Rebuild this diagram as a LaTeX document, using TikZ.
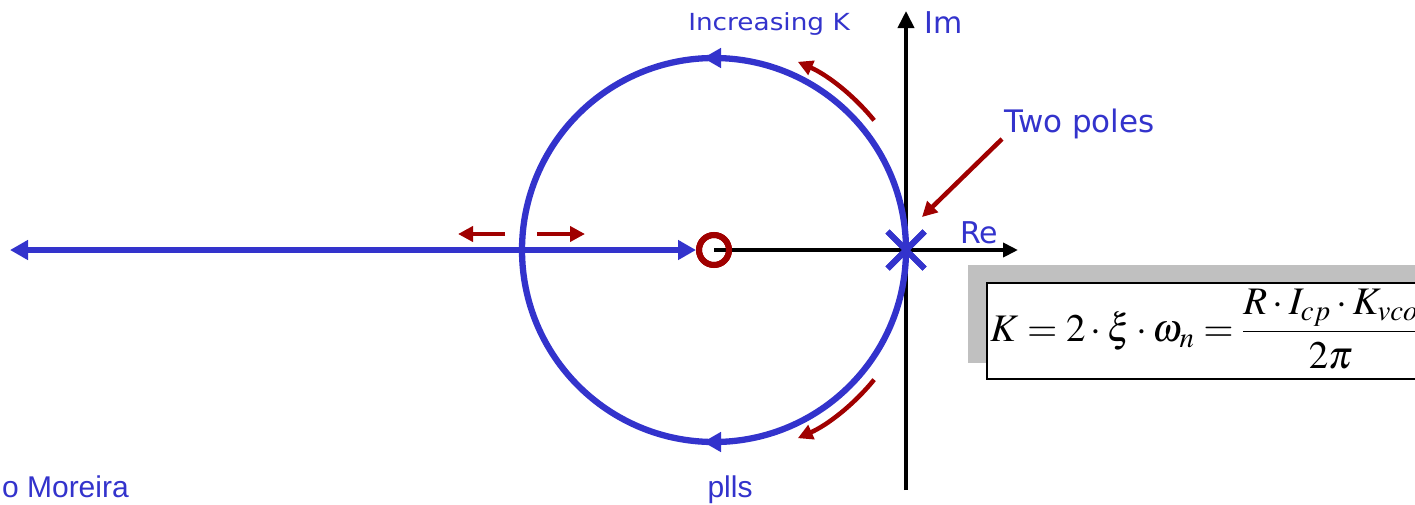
\documentclass[tikz,border=0pt]{standalone}
\usepackage{mathptmx}
\usepackage{fontspec}
\usetikzlibrary{arrows.meta,shapes.misc}
\newfontfamily\verd{DejaVu Sans}
\newfontfamily\verdwide[FakeStretch=1.12]{DejaVu Sans}
\newfontfamily\arial{Liberation Sans}
\definecolor{pblue}{RGB}{51,51,204}
\definecolor{pred}{RGB}{160,0,0}
\definecolor{pgray}{RGB}{192,192,192}
\tikzset{
  axisline/.style={black, line width=3.8pt},
  locus/.style={pblue, line width=6.3pt},
  locusleft/.style={pblue, line width=6.3pt, -{Triangle[length=18pt,width=19pt]}},
  locusboth/.style={pblue, line width=6.3pt, {Triangle[length=18pt,width=19pt]}-{Triangle[length=18pt,width=19pt]}},
  hint/.style={pred, line width=4.5pt, -{Triangle[length=15pt,width=15pt]}},
  lbl/.style={text=pblue, inner sep=0pt},
}
\begin{document}
\begin{tikzpicture}[x=1pt,y=-1pt]
\useasboundingbox (0,0) rectangle (1415,504);
\clip (0,0) rectangle (1415,504);
% formula box
\fill[pgray] (968,265) rectangle (1430,363);
\node[draw=black, fill=white, line width=1.5pt, inner sep=0pt, minimum width=460pt, minimum height=96pt, anchor=north west] (fbox) at (986,282) {};
\node[anchor=west, inner sep=0pt] (formula) at (990,329)
  {\fontsize{39}{46}\selectfont$\displaystyle K=2\cdot\xi\cdot\omega_n=\frac{R\cdot I_{cp}\cdot K_{vco}}{2\pi}$};
% axes
\coordinate (imbot) at (906,490);
\coordinate (imtop) at (906,11);
\coordinate (retip) at (1018,250);
\draw[axisline, -{Triangle[length=17pt,width=16pt]}] (imbot) -- (imtop);
\node[cross out, draw=pblue, line width=6pt, minimum size=31pt, inner sep=0pt] (pole) at (906,250) {};
\node[circle, draw=pred, line width=6pt, minimum size=30pt, inner sep=0pt] (zero) at (714,250) {};
\draw[axisline, -{Triangle[length=15pt,width=14pt]}] (zero.center) -- (retip);
\node[circle, draw=pred, line width=6pt, minimum size=30pt, inner sep=0pt] at (zero.center) {};
% root locus circle
\node[circle, locus, draw, minimum size=384pt, inner sep=0pt, outer sep=0pt] (loop) at (714,250) {};
\coordinate (topa) at (722,58);
\coordinate (topb) at (703,58);
\coordinate (bota) at (722,442);
\coordinate (botb) at (703,442);
\draw[locusleft] (topa) -- (topb);
\draw[locusleft] (bota) -- (botb);
\node[cross out, draw=pblue, line width=6pt, minimum size=31pt, inner sep=0pt] at (pole.center) {};
% real-axis locus
\coordinate (far) at (10,250);
\draw[locusboth] (far) -- (zero.west);
% red hint arrows
\draw[hint] (714,250) ++(-39:206) arc[start angle=-39, end angle=-66, radius=206];
\draw[hint] (714,250) ++(39:206) arc[start angle=39, end angle=66, radius=206];
\coordinate (la) at (505,234);
\coordinate (lb) at (458,234);
\coordinate (ra) at (537,234);
\coordinate (rb) at (585,234);
\draw[hint] (la) -- (lb);
\draw[hint] (ra) -- (rb);
% labels
\node[lbl, anchor=base, font=\verdwide\fontsize{23.5}{28}\selectfont] (inck) at (769,30) {Increasing K};
\node[lbl, anchor=base west, font=\verd\fontsize{30}{36}\selectfont] (im) at (924,33) {Im};
\node[lbl, anchor=base west, font=\verd\fontsize{30}{36}\selectfont] (re) at (960,243) {Re};
\node[lbl, anchor=base west, font=\verd\fontsize{31}{37}\selectfont] (twop) at (1004,132) {Two poles};
\coordinate (tpa) at (1002,139);
\coordinate (tpb) at (922,217);
\draw[hint] (tpa) -- (tpb);
\node[lbl, anchor=base, font=\arial\fontsize{30}{36}\selectfont] (plls) at (730,497) {plls};
\node[lbl, anchor=base east, font=\arial\fontsize{30}{36}\selectfont] (author) at (129,497) {o Moreira};
\end{tikzpicture}
\end{document}
